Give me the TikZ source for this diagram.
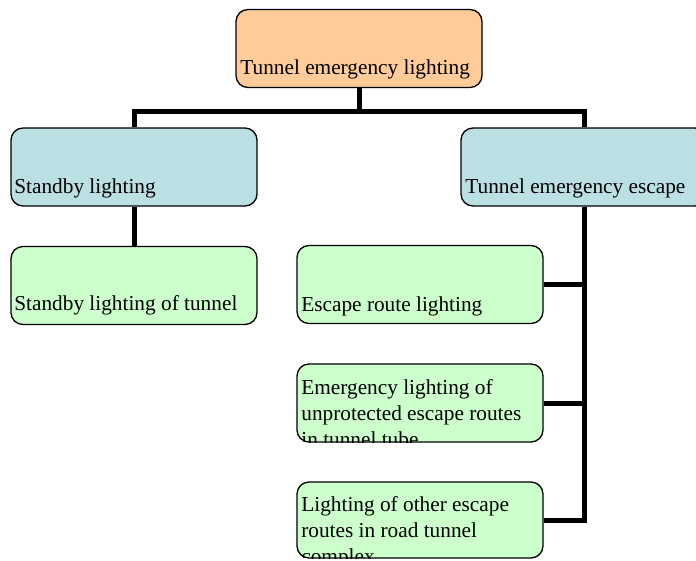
\documentclass[tikz,border=0pt]{standalone}
\usepackage{fontspec}
\setmainfont{Liberation Serif}
\definecolor{peach}{RGB}{255,204,153}
\definecolor{paleblue}{RGB}{187,224,227}
\definecolor{palegreen}{RGB}{204,255,204}
\tikzset{
  box/.style={draw=black, line width=1.3pt, rounded corners=12pt,
    minimum width=246pt, minimum height=78pt, inner sep=0pt},
  txt/.style={anchor=base west, inner sep=0pt, outer sep=0pt, text=black,
    font=\fontsize{21.3}{25}\selectfont},
  conn/.style={draw=black, line width=5pt}
}
% clipped text line inside a box: #1 box name, #2 x offset, #3 baseline offset from top, #4 text
\newcommand{\boxline}[4]{%
  \begin{scope}
    \clip[rounded corners=12pt] (#1.north west) rectangle (#1.south east);
    \node[txt] at ([shift={(#2pt,-#3pt)}]#1.north west) {#4};
  \end{scope}}
\begin{document}
\begin{tikzpicture}[x=1pt, y=-1pt]
\useasboundingbox (0,0) rectangle (696,560);
% boxes
\node[box, fill=peach] (top) at (359,48.5) {};
\node[box, fill=paleblue] (standby) at (134,167) {};
\node[box, fill=paleblue] (escape) at (584,167) {};
\node[box, fill=palegreen] (sbt) at (134,285.5) {};
\node[box, fill=palegreen] (erl) at (420,284.5) {};
\node[box, fill=palegreen] (eml) at (420,403) {};
\node[box, fill=palegreen, minimum height=76pt] (olr) at (420,520) {};
% texts
\boxline{top}{5}{66}{Tunnel emergency lighting}
\boxline{standby}{4}{66}{Standby lighting}
\boxline{escape}{5}{66}{Tunnel emergency escape}
\boxline{sbt}{4}{65}{Standby lighting of tunnel}
\boxline{erl}{5}{67}{Escape route lighting}
\boxline{eml}{5}{31}{Emergency lighting of}
\boxline{eml}{5}{57}{unprotected escape routes}
\boxline{eml}{5}{83}{in tunnel tube}
\boxline{olr}{5}{30}{Lighting of other escape}
\boxline{olr}{5}{56}{routes in road tunnel}
\boxline{olr}{5}{82}{complex}
% connectors
\coordinate (bus) at (359,111);
\draw[conn] (top.south) -- (bus);
\draw[conn] (standby.north) |- (bus) -| (escape.north);
\draw[conn] (standby.south) -- (sbt.north);
\draw[conn] (escape.south) |- (erl.east);
\draw[conn] (escape.south) |- (eml.east);
\draw[conn] (escape.south) |- (olr.east);
\end{tikzpicture}
\end{document}
